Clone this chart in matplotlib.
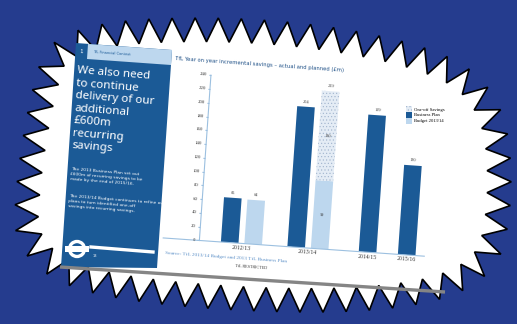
import numpy as np
import matplotlib
matplotlib.use('Agg')
import matplotlib.pyplot as plt
from matplotlib.patches import Polygon, Circle, Rectangle, Patch
from matplotlib.transforms import Affine2D
import mpl_toolkits.axisartist.floating_axes as floating_axes
from mpl_toolkits.axisartist.grid_finder import FixedLocator, DictFormatter

# data (GBP m)
years = ['2012/13', '2013/14', '2014/15', '2015/16']
business_plan = [65, 204, 199, 130]
budget_1314 = [64, 99, 0, 0]
one_off = [0, 130, 0, 0]
y_ticks = list(range(0, 241, 20))
legend_labels = ['One-off Savings', 'Business Plan', 'Budget 2013/14']

title = "TfL Year on year incremental savings \u2013 actual and planned (\u00a3m)"
source = "Source: TfL 2013/14 Budget and 2013 TfL Business Plan"
headline = "We also need\nto continue\ndelivery of our\nadditional\n\u00a3600m\nrecurring\nsavings"
body = ("The 2013 Business Plan set out\n\u00a3600m of recurring savings to be\n"
        "made by the end of 2015/16.")
body2 = ("The 2013/14 Budget continues to refine our\nplans to turn identified one-off\n"
         "savings into recurring savings.")

# colours
BG = '#253c8e'
DARK = '#1b5a96'
LIGHT = '#bdd7ee'
ONEOFF = '#e4ecf5'
AXIS = '#9cc0e0'
TXT = '#333333'

plt.rcParams['hatch.color'] = '#9fb3cc'
plt.rcParams['hatch.linewidth'] = 0.4


def chaikin(p, k=3):
    for _ in range(k):
        q = np.roll(p, -1, axis=0)
        new = np.empty((2 * len(p), 2))
        new[0::2] = 0.75 * p + 0.25 * q
        new[1::2] = 0.25 * p + 0.75 * q
        p = new
    return p


def starburst(mid, nspikes, depth):
    p = chaikin(np.asarray(mid, float))
    closed = np.vstack([p, p[:1]])
    cum = np.concatenate([[0], np.cumsum(np.hypot(*np.diff(closed, axis=0).T))])
    s = np.linspace(0, cum[-1], 2 * nspikes, endpoint=False)
    x = np.interp(s, cum, closed[:, 0])
    y = np.interp(s, cum, closed[:, 1])
    tx = np.roll(x, -1) - np.roll(x, 1)
    ty = np.roll(y, -1) - np.roll(y, 1)
    nl = np.hypot(tx, ty)
    area = 0.5 * np.sum(p[:, 0] * np.roll(p[:, 1], -1) - np.roll(p[:, 0], -1) * p[:, 1])
    sgn = 1 if area > 0 else -1
    nx, ny = sgn * ty / nl, -sgn * tx / nl
    d = np.where(np.arange(2 * nspikes) % 2 == 0, depth, -depth)
    return np.column_stack([x + d * nx, y + d * ny])


W, H = 517, 324
fig = plt.figure(figsize=(W / 100, H / 100), dpi=100)
fig.patch.set_facecolor(BG)

# background layer in pixel coords (y down)
bg = fig.add_axes([0, 0, 1, 1], zorder=0)
bg.set_xlim(0, W)
bg.set_ylim(H, 0)
bg.axis('off')

# starburst outline (mid line of the spikes)
burst_mid = [(62, 34), (262, 27), (435, 57), (494, 104), (502, 200), (484, 280),
             (348, 305), (102, 290), (25, 250), (28, 180), (42, 95)]
bg.add_patch(Polygon(starburst(burst_mid, 56, 12), closed=True,
                     fc='white', ec='black', lw=1.2))

# slide shadow
bg.plot([60, 445], [267, 292], color='#858585', lw=2.4, solid_capstyle='butt')

# left panel
bg.add_patch(Polygon([(76, 43), (172, 50), (157, 268), (61, 267)], closed=True,
                     fc=DARK, ec='none'))
bg.add_patch(Polygon([(88, 44), (172, 50), (171, 65), (87, 59)], closed=True,
                     fc=LIGHT, ec='none'))
bg.text(81, 52, '1', color='white', fontsize=4, ha='center', va='center',
        rotation=-4)
bg.text(93, 53, 'TfL Financial Context', color=DARK, fontsize=2.6,
        ha='left', va='center', rotation=-4)
bg.text(78, 65, headline, color='white', fontsize=8.4, weight='bold',
        family='Noto Sans', ha='left', va='top', linespacing=1.2,
        rotation=-4.5, rotation_mode='anchor')
bg.text(71, 167, body, color='white', fontsize=3.2, ha='left', va='top',
        linespacing=1.35, rotation=-4.5, rotation_mode='anchor')
bg.text(69, 194, body2, color='white', fontsize=3.2, ha='left', va='top',
        linespacing=1.35, rotation=-4.5, rotation_mode='anchor')

# roundel
bg.add_patch(Circle((77, 249), 7.5, fc='none', ec='white', lw=2.4))
bg.add_patch(Rectangle((65, 246.3), 24, 5.4, fc='white', ec='none'))
bg.plot([91, 153], [247, 252], color='white', lw=2.4)
bg.text(93, 256, '13', color='white', fontsize=2.5, ha='left', va='center')

# rotated chart (floating axes)
ANGLE = -4
X_SCALE = 71.0
centers = [0.86, 2.22, 3.44, 4.24]
off = 0.24
bw = 0.36

tr = Affine2D().scale(X_SCALE, 1).rotate_deg(ANGLE)
grid_helper = floating_axes.GridHelperCurveLinear(
    tr, extremes=(0, 4.6, 0, 240),
    grid_locator1=FixedLocator(centers),
    tick_formatter1=DictFormatter(dict(zip(centers, years))),
    grid_locator2=FixedLocator(y_ticks),
    tick_formatter2=DictFormatter({v: str(v) for v in y_ticks}))

rect = [197 / W, 66 / H, 241.2 / W, 184.6 / H]
ax = fig.add_axes(rect, axes_class=floating_axes.FloatingAxes,
                  grid_helper=grid_helper, zorder=1)
ax.patch.set_facecolor('white')
for side in ['top', 'right']:
    ax.axis[side].set_visible(False)
for side in ['left', 'bottom']:
    ax.axis[side].line.set_color(AXIS)
    ax.axis[side].line.set_linewidth(0.8)
    ax.axis[side].major_ticks.set_color(AXIS)
    ax.axis[side].major_ticklabels.set_color(TXT)
    ax.axis[side].major_ticklabels.set_family('Liberation Serif')
ax.axis['left'].major_ticks.set_tick_out(True)
ax.axis['left'].major_ticks.set_ticksize(1.5)
ax.axis['left'].major_ticklabels.set_fontsize(3.5)
ax.axis['left'].major_ticklabels.set_pad(1.5)
ax.axis['bottom'].major_ticks.set_visible(False)
ax.axis['bottom'].major_ticklabels.set_fontsize(4.2)
ax.axis['bottom'].major_ticklabels.set_pad(1.5)

aux = ax.get_aux_axes(tr)
aux.patch = ax.patch
ax.patch.zorder = 0.9

lab = dict(fontsize=3.2, color=TXT, family='Liberation Serif', ha='center',
           rotation=ANGLE, rotation_mode='anchor')
for i, c in enumerate(centers):
    has_budget = budget_1314[i] > 0
    xd = c - off if has_budget else c
    aux.bar(xd, business_plan[i], width=bw, color=DARK, lw=0)
    aux.text(xd, business_plan[i] + 4, str(business_plan[i]), va='bottom', **lab)
    if has_budget:
        xl = c + off
        aux.bar(xl, budget_1314[i], width=bw, color=LIGHT, lw=0)
        if one_off[i] > 0:
            aux.bar(xl, one_off[i], width=bw, bottom=budget_1314[i],
                    color=ONEOFF, hatch='.....', lw=0)
            aux.text(xl, budget_1314[i] / 2, str(budget_1314[i]),
                     va='center', **lab)
            aux.text(xl, budget_1314[i] + one_off[i] / 2, str(one_off[i]),
                     va='center', **lab)
            tot = budget_1314[i] + one_off[i]
            aux.text(xl, tot + 4, str(tot), va='bottom', **lab)
        else:
            aux.text(xl, budget_1314[i] + 4, str(budget_1314[i]),
                     va='bottom', **lab)

# footer line to the left of the y axis
aux.plot([-0.74, 0], [0, 0], color=AXIS, lw=0.8, clip_on=False)

aux.text(-0.76, 258, title, fontsize=3.8, color='#1d4f86', ha='left',
         va='baseline', rotation=ANGLE, rotation_mode='anchor', clip_on=False)
aux.text(-0.68, -23, source, fontsize=3.8, color='#5b8fc7', ha='left',
         va='baseline', family='Liberation Serif', rotation=ANGLE,
         rotation_mode='anchor', clip_on=False)
aux.text(1.1, -35, 'TfL RESTRICTED', fontsize=3, color=TXT, ha='center',
         va='baseline', family='Liberation Serif', rotation=ANGLE,
         rotation_mode='anchor', clip_on=False)

handles = [Patch(fc=ONEOFF, hatch='.....', lw=0), Patch(fc=DARK, lw=0),
           Patch(fc=LIGHT, lw=0)]
leg = fig.legend(handles, legend_labels, loc='upper left',
                 bbox_to_anchor=(404 / W, 1 - 104 / H),
                 frameon=False, handlelength=1.3, handleheight=1.5,
                 labelspacing=0.05, handletextpad=0.4, borderpad=0,
                 prop={'family': 'Liberation Serif', 'size': 3.3})

fig.savefig('out.png', dpi=100, facecolor=BG)
